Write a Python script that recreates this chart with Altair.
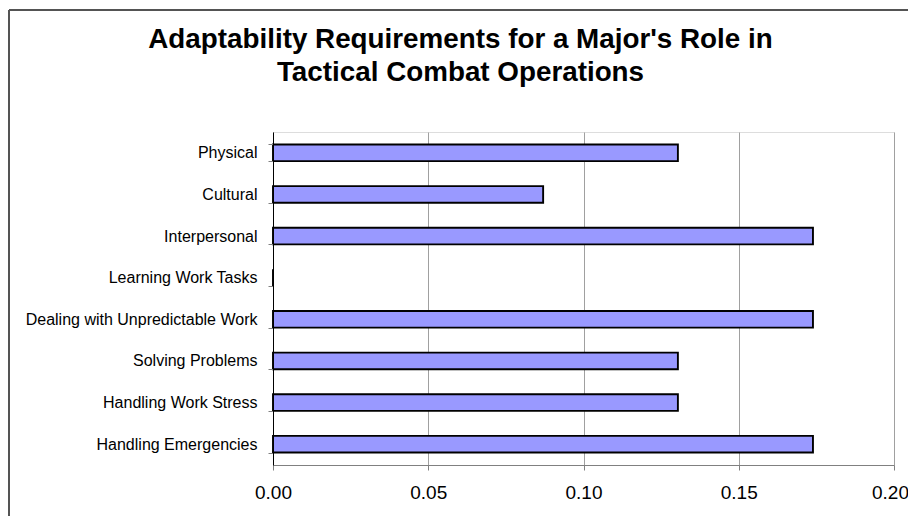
import altair as alt
import pandas as pd

categories = [
    "Physical",
    "Cultural",
    "Interpersonal",
    "Learning Work Tasks",
    "Dealing with Unpredictable Work",
    "Solving Problems",
    "Handling Work Stress",
    "Handling Emergencies",
]
values = [0.1304, 0.0870, 0.1739, 0.0, 0.1739, 0.1304, 0.1304, 0.1739]
x_ticks = [0.0, 0.05, 0.10, 0.15, 0.20]
title_lines = ["Adaptability Requirements for a Major's Role in", "Tactical Combat Operations"]

df = pd.DataFrame({"category": categories, "value": values})

FONT = "Liberation Sans"

bars = alt.Chart(df).mark_bar(
    color="#9999FF", stroke="black", strokeWidth=1.9
).encode(
    y=alt.Y(
        "category:N",
        sort=categories,
        title=None,
        scale=alt.Scale(paddingInner=0.6, paddingOuter=0.3),
        axis=alt.Axis(
            tickBand="extent",
            ticks=True,
            tickSize=5,
            tickColor="#808080",
            domainColor="black",
            domainWidth=1,
            labelFontSize=16,
            labelFont=FONT,
            labelColor="black",
            labelPadding=11,
            labelLimit=400,
            grid=False,
            zindex=1,
        ),
    ),
    x=alt.X(
        "value:Q",
        title=None,
        scale=alt.Scale(domain=[0, 0.2], nice=False),
        axis=alt.Axis(
            values=x_ticks,
            format=".2f",
            tickSize=5,
            tickColor="#808080",
            domainColor="#808080",
            gridColor="#a0a0a0",
            gridWidth=1,
            labelFontSize=19,
            labelFont=FONT,
            labelColor="black",
            labelPadding=13,
            labelFlush=False,
            labelOffset=alt.expr("datum.value >= 0.199 ? -4 : 0"),
        ),
    ),
)

frame_top = alt.Chart(df).mark_rule(color="#555555", strokeWidth=1.5).encode(
    x=alt.value(-264), x2=alt.value(700), y=alt.value(-122)
)
frame_left = alt.Chart(df).mark_rule(color="#555555", strokeWidth=1.5).encode(
    x=alt.value(-264), y=alt.value(-122), y2=alt.value(420)
)

chart = (
    alt.layer(frame_top, frame_left, bars)
    .properties(
        width=621,
        height=333,
        autosize=alt.AutoSizeParams(type="none"),
        padding={"left": 265, "top": 124, "right": 14, "bottom": 51},
        title=alt.TitleParams(
            text=title_lines,
            font=FONT,
            fontSize=27.8,
            fontWeight="bold",
            color="black",
            anchor="middle",
            frame="group",
            dx=-123,
            offset=-78,
            lineHeight=33,
        ),
    )
    .configure_view(stroke="#808080", strokeWidth=1.5)
    .configure(background="white")
)

chart.save("out.html", embed_options={"renderer": "svg", "actions": False})
